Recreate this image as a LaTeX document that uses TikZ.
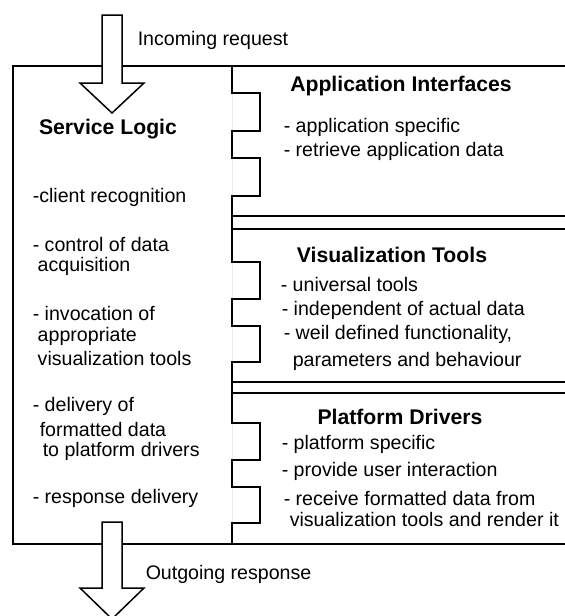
\documentclass[tikz,border=0pt]{standalone}
\usepackage{fontspec}
\setmainfont{Liberation Sans}
\begin{document}
\begin{tikzpicture}[x=1pt,y=-1pt, line width=1.5pt,
  txt/.style={font=\fontsize{19.6}{22}\selectfont, anchor=west, inner sep=0pt, yshift=-1.5pt},
  ttl/.style={font=\bfseries\fontsize{21.2}{24}\selectfont, inner sep=0pt, yshift=-1.5pt},
  bigarrow/.style={draw, fill=white, line width=1.5pt, line join=miter}]
\useasboundingbox (0,0) rectangle (565,616);
% outer frame
\draw (565,66) -- (13,66) -- (13,544) -- (565,544);
% faint service logic right edge
\draw[gray!15, line width=1pt] (232,66) -- (232,544);
% panel separators
\draw (232,216) -- (565,216);
\draw (232,229) -- (565,229);
\draw (232,382) -- (565,382);
\draw (232,393) -- (565,393);
% panel left edge with tabs
\draw (232,66) -- (232,93) -- (260,93) -- (260,131) -- (232,131) -- (232,158) -- (260,158) -- (260,196) -- (232,196)
  -- (232,262) -- (260,262) -- (260,299) -- (232,299) -- (232,326) -- (260,326) -- (260,362) -- (232,362)
  -- (232,423) -- (260,423) -- (260,460) -- (232,460) -- (232,487) -- (260,487) -- (260,523) -- (232,523) -- (232,544);
% arrows
\draw[bigarrow] (102,15) -- (122,15) -- (122,83) -- (144,83) -- (112,113) -- (80,83) -- (102,83) -- cycle;
\draw[bigarrow] (102,522) -- (122,522) -- (122,588) -- (144,588) -- (112,619) -- (80,588) -- (102,588) -- cycle;
\node[txt] (in) at (137,39) {Incoming request};
\node[txt] (out) at (145,573) {Outgoing response};
% service logic
\node[ttl] (sl) at (108,128) {Service Logic};
\node[txt] (s1) at (32,196) {-client recognition};
\node[txt] (s2) at (32,243) {- control of data};
\node[txt] (s2b) at (37,265) {acquisition};
\node[txt] (s3) at (32,312) {- invocation of};
\node[txt] (s3b) at (37,335) {appropriate};
\node[txt] (s3c) at (37,357) {visualization tools};
\node[txt] (s4) at (32,405) {- delivery of};
\node[txt] (s4b) at (39,428) {formatted data};
\node[txt] (s4c) at (42,450) {to platform drivers};
\node[txt] (s5) at (32,497) {- response delivery};
% application interfaces
\node[ttl] (ai) at (401,85) {Application Interfaces};
\node[txt] (a1) at (283,126) {- application specific};
\node[txt] (a2) at (283,150) {- retrieve application data};
% visualization tools
\node[ttl] (vt) at (392,253) {Visualization Tools};
\node[txt] (v1) at (280,283) {- universal tools};
\node[txt] (v2) at (281,309) {- independent of actual data};
\node[txt] (v3) at (283,333) {- weil defined functionality,};
\node[txt] (v3b) at (292,360) {parameters and behaviour};
% platform drivers
\node[ttl] (pd) at (400,415) {Platform Drivers};
\node[txt] (p1) at (281,443) {- platform specific};
\node[txt] (p2) at (281,470) {- provide user interaction};
\node[txt] (p3) at (283,497) {- receive formatted data from};
\node[txt] (p3b) at (289,518) {visualization tools and render it};
\end{tikzpicture}
\end{document}
